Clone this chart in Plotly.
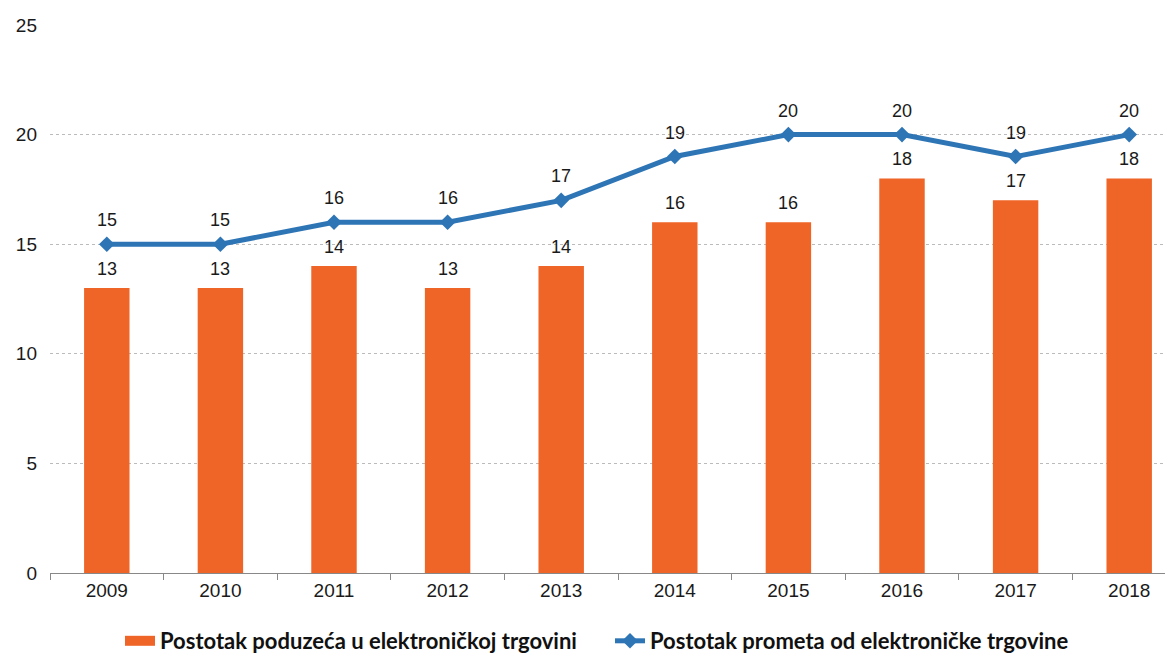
import plotly.graph_objects as go

years = ["2009", "2010", "2011", "2012", "2013", "2014", "2015", "2016", "2017", "2018"]
poduzeca = [13, 13, 14, 13, 14, 16, 16, 18, 17, 18]
promet = [15, 15, 16, 16, 17, 19, 20, 20, 19, 20]
yticks = [0, 5, 10, 15, 20, 25]
name_bar = "Postotak poduzeća u elektroničkoj trgovini"
name_line = "Postotak prometa od elektroničke trgovine"

ORANGE = "#EF6527"
BLUE = "#2E75B6"
LABEL_FONT = dict(family="Liberation Sans, Arial", size=18, color="#1a1a1a")

fig = go.Figure()
fig.add_trace(go.Bar(
    x=years, y=poduzeca, name=name_bar, showlegend=False,
    marker=dict(color=ORANGE, line=dict(width=0)), width=0.4,
))
# legend-only entry giving the wide rectangular swatch of the bar series
fig.add_trace(go.Scatter(
    x=[None], y=[None], name=name_bar, mode="lines",
    line=dict(color=ORANGE, width=10), showlegend=True,
))
fig.add_trace(go.Scatter(
    x=years, y=promet, name=name_line,
    mode="lines+markers",
    line=dict(color=BLUE, width=5),
    marker=dict(symbol="diamond", size=12, color=BLUE),
    cliponaxis=False,
))

# data labels (category axis: annotation x given as category index)
for i, v in enumerate(poduzeca):
    fig.add_annotation(x=i, y=v, xref="x", yref="y", text=str(v), showarrow=False,
                       yanchor="middle", yshift=19, font=LABEL_FONT)
for i, v in enumerate(promet):
    fig.add_annotation(x=i, y=v, xref="x", yref="y", text=str(v), showarrow=False,
                       yanchor="middle", yshift=24, font=LABEL_FONT)

fig.update_layout(
    width=1178, height=645,
    margin=dict(l=42, r=0, t=17, b=80, autoexpand=False),
    plot_bgcolor="white", paper_bgcolor="white",
    showlegend=True,
    legend=dict(orientation="h", x=0.0616, xanchor="left",
                yref="container", y=0.0186, yanchor="middle",
                font=dict(family="Lato, Open Sans", size=22, color="#111", weight="bold"),
                itemwidth=30, tracegroupgap=0,
                entrywidth=445, entrywidthmode="pixels"),
    bargap=0.6,
)
fig.update_xaxes(
    type="category", range=[-0.5, 9.5], automargin=False,
    showline=True, linecolor="#888", linewidth=1,
    ticks="outside", ticklen=6, tickcolor="#888", tickson="boundaries",
    tickfont=dict(family="Liberation Sans, Arial", size=19, color="#1a1a1a"),
    showgrid=False,
)
fig.update_yaxes(
    range=[0, 25], tickvals=yticks, ticktext=[str(v) for v in yticks],
    automargin=False,
    showgrid=True, gridcolor="#BBBBBB", griddash="dot", gridwidth=1,
    zeroline=False, showline=False,
    tickfont=dict(family="Liberation Sans, Arial", size=19, color="#1a1a1a"),
    ticklabelstandoff=12,
)

fig.write_html("out.html")
